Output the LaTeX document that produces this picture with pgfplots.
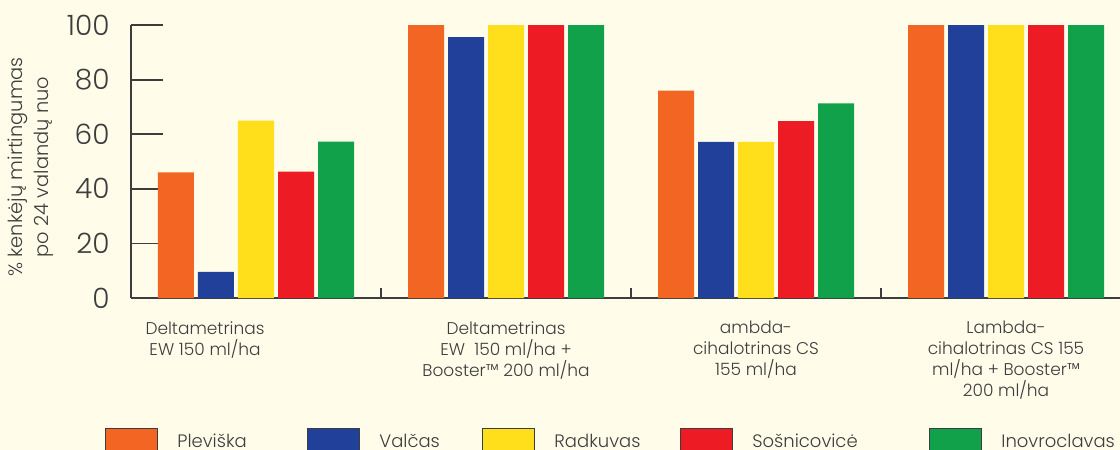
\documentclass[border=0pt]{standalone}
\usepackage{fontspec}
\setmainfont{Poppins Light}
\usepackage{pgfplots}
\pgfplotsset{compat=1.18}
\definecolor{bg}{HTML}{FFFCEA}
\definecolor{axiscol}{HTML}{3D3D3D}
\definecolor{cOrange}{HTML}{F26522}
\definecolor{cBlue}{HTML}{21409A}
\definecolor{cYellow}{HTML}{FFDF1B}
\definecolor{cRed}{HTML}{ED1C24}
\definecolor{cGreen}{HTML}{10A14A}
\begin{document}
\begin{tikzpicture}
\fill[bg] (-65.5pt,-76pt) rectangle (494.5pt,149pt);
\begin{axis}[
  at={(0,0)}, anchor=south west,
  scale only axis, width=500pt, height=136.5pt,
  xmin=-0.5, xmax=3.5, ymin=0, ymax=100,
  enlarge y limits=false,
  ybar=2pt, bar width=18pt,
  axis x line*=bottom, axis y line*=left,
  axis line style={draw=axiscol, line width=0.9pt},
  tick align=inside,
  /pgf/number format/assume math mode=true,
  ytick={0,20,40,60,80,100},
  ytick style={draw=axiscol, line width=0.9pt, /pgfplots/major tick length=16pt},
  yticklabel style={font=\fontsize{14}{16}\selectfont, text=axiscol, inner sep=0pt, xshift=-10.5pt},
  xtick={0.5,1.5,2.5}, xticklabels={},
  xtick style={draw=axiscol, line width=0.9pt, /pgfplots/major tick length=5pt},
  extra x ticks={-0.204,1,2,3},
  extra x tick style={/pgfplots/major tick length=0pt},
  extra x tick labels={
    {Deltametrinas\\EW 150 ml/ha},
    {Deltametrinas\\EW\ \ 150 ml/ha +\\Booster™ 200 ml/ha},
    {ambda-\\cihalotrinas CS\\155 ml/ha},
    {Lambda-\\cihalotrinas CS 155\\ml/ha + Booster™\\200 ml/ha}},
  xticklabel style={font=\fontsize{8.5}{10.5}\selectfont, text=axiscol, align=center, anchor=north, inner sep=0pt, yshift=-11.5pt},
  ylabel={\% kenkėjų mirtingumas\\po 24 valandų nuo},
  ylabel style={at={(axis description cs:-0.1,0.48)}, anchor=center, align=center, font=\fontsize{9.7}{13}\selectfont, text=axiscol},
  legend columns=5,
  legend style={draw=none, fill=none, inner sep=0pt, at={(axis description cs:-0.026,-0.4762)}, anchor=north west,
    font=\fontsize{9}{11}\selectfont, text=axiscol,
    nodes={inner sep=0pt},
    /tikz/every odd column/.append style={column sep=9.5pt},
    /tikz/every even column/.append style={column sep=0pt}},
  legend image code/.code={\draw[#1, draw=axiscol, line width=0.5pt] (0pt,-7.5pt) rectangle (26pt,6.6pt);},
]
\addplot[fill=cOrange, draw=none] coordinates {(0,46) (1,100) (2,76) (3,100)};
\addplot[fill=cBlue, draw=none] coordinates {(0,9.6) (1,95.6) (2,57.2) (3,100)};
\addplot[fill=cYellow, draw=none] coordinates {(0,65) (1,100) (2,57.2) (3,100)};
\addplot[fill=cRed, draw=none] coordinates {(0,46.3) (1,100) (2,64.8) (3,100)};
\addplot[fill=cGreen, draw=none] coordinates {(0,57.3) (1,100) (2,71.3) (3,100)};
\addlegendentry{\makebox[65pt][l]{Pleviška}}
\addlegendentry{\makebox[51.5pt][l]{Valčas}}
\addlegendentry{\makebox[63pt][l]{Radkuvas}}
\addlegendentry{\makebox[88.5pt][l]{Sošnicovicė}}
\addlegendentry{Inovroclavas}
\end{axis}
\pgfresetboundingbox
\path[use as bounding box] (-65.5pt,-76pt) rectangle (494.5pt,149pt);
\end{tikzpicture}
\end{document}
